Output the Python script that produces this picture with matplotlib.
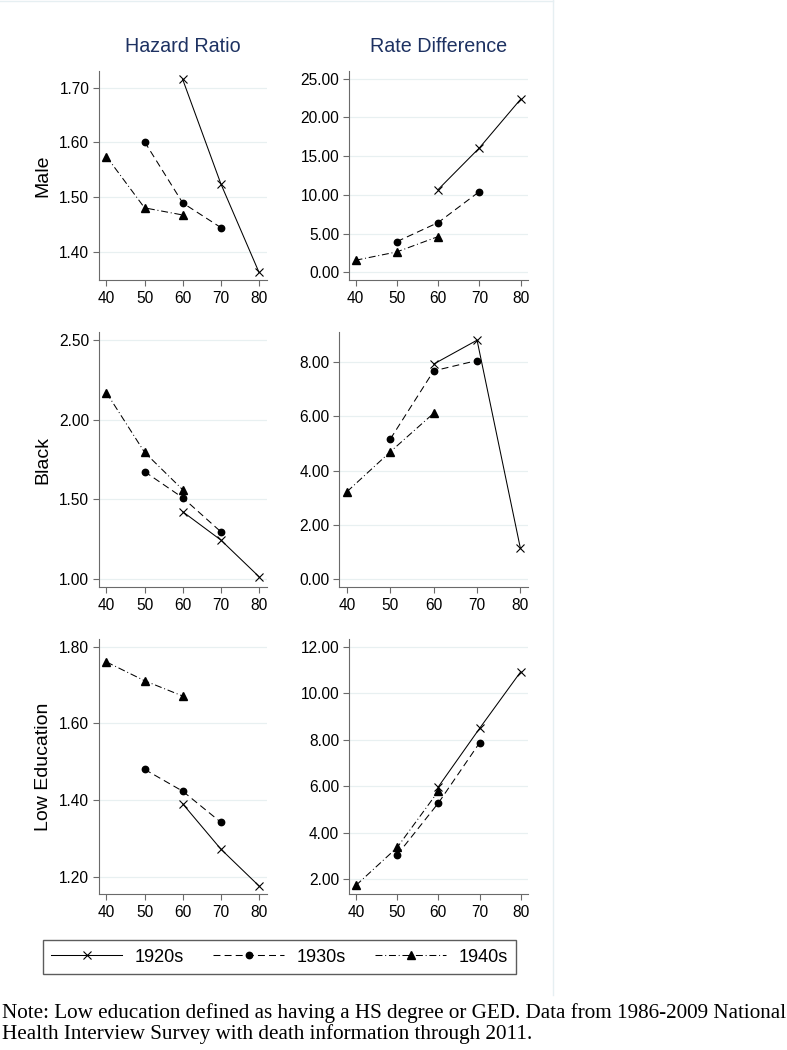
import matplotlib
matplotlib.use('Agg')
import matplotlib.pyplot as plt
from matplotlib.lines import Line2D
from matplotlib.ticker import FormatStrFormatter

plt.rcParams['font.family'] = ['Liberation Sans', 'DejaVu Sans']
plt.rcParams['lines.scale_dashes'] = False

# ages at which each birth cohort is observed
ages_1920s = [60, 70, 80]
ages_1930s = [50, 60, 70]
ages_1940s = [40, 50, 60]
x_ticks = [40, 50, 60, 70, 80]

# Hazard ratios / rate differences
male_hr_1920s = [1.715, 1.524, 1.362]
male_hr_1930s = [1.601, 1.489, 1.444]
male_hr_1940s = [1.574, 1.480, 1.467]
male_rd_1920s = [10.69, 16.08, 22.38]
male_rd_1930s = [3.96, 6.42, 10.43]
male_rd_1940s = [1.55, 2.63, 4.61]

black_hr_1920s = [1.423, 1.245, 1.015]
black_hr_1930s = [1.675, 1.511, 1.297]
black_hr_1940s = [2.171, 1.796, 1.561]
black_rd_1920s = [7.93, 8.81, 1.14]
black_rd_1930s = [5.17, 7.68, 8.06]
black_rd_1940s = [3.23, 4.70, 6.12]

lowed_hr_1920s = [1.390, 1.272, 1.176]
lowed_hr_1930s = [1.480, 1.423, 1.342]
lowed_hr_1940s = [1.760, 1.711, 1.671]
lowed_rd_1920s = [5.98, 8.49, 10.93]
lowed_rd_1930s = [3.05, 5.28, 7.87]
lowed_rd_1940s = [1.74, 3.37, 5.79]

row_labels = ['Male', 'Black', 'Low Education']
col_titles = ['Hazard Ratio', 'Rate Difference']
cohort_labels = ['1920s', '1930s', '1940s']

y_ticks = [
    [1.40, 1.50, 1.60, 1.70], [0, 5, 10, 15, 20, 25],
    [1.00, 1.50, 2.00, 2.50], [0, 2, 4, 6, 8],
    [1.20, 1.40, 1.60, 1.80], [2, 4, 6, 8, 10, 12],
]
y_lims = [
    (1.348, 1.7305), (-1.0, 26.0),
    (0.952, 2.55), (-0.27, 9.1),
    (1.155, 1.819), (1.37, 12.32),
]
panel_data = [
    (male_hr_1920s, male_hr_1930s, male_hr_1940s),
    (male_rd_1920s, male_rd_1930s, male_rd_1940s),
    (black_hr_1920s, black_hr_1930s, black_hr_1940s),
    (black_rd_1920s, black_rd_1930s, black_rd_1940s),
    (lowed_hr_1920s, lowed_hr_1930s, lowed_hr_1940s),
    (lowed_rd_1920s, lowed_rd_1930s, lowed_rd_1940s),
]

W, H = 787, 1050
fig = plt.figure(figsize=(W / 100, H / 100), dpi=100)

# panel boxes in pixels: left, right, top, bottom
boxes = [
    (98.8, 266.9, 71, 280), (348.5, 528, 71, 280),
    (98.8, 266.9, 332.3, 586.7), (339.2, 528, 332.3, 586.7),
    (98.8, 266.9, 639.3, 894), (348.5, 528, 639.3, 894),
]
x_lims = [(38.0, 82.07), (38.3, 81.75), (38.0, 82.07), (38.2, 81.75), (38.0, 82.07), (38.2, 81.75)]

styles = [
    dict(linestyle='-', marker='x', markersize=6, markeredgewidth=0.8),
    dict(linestyle=(0, (5.0, 3.0)), marker='o', markersize=4.6),
    dict(linestyle=(0, (5.0, 2.0, 0.7, 2.0)), marker='^', markersize=5.2),
]
ages = [ages_1920s, ages_1930s, ages_1940s]
spine_col = '#6a6a6a'
axes = []
for i, (l, r, t, b) in enumerate(boxes):
    ax = fig.add_axes([l / W, 1 - b / H, (r - l) / W, (b - t) / H])
    for k in range(3):
        ax.plot(ages[k], panel_data[i][k], color='black', linewidth=0.75,
                label=cohort_labels[k], **styles[k])
    ax.set_xlim(x_lims[i])
    ax.set_ylim(y_lims[i])
    ax.set_xticks(x_ticks)
    ax.set_yticks(y_ticks[i])
    ax.yaxis.set_major_formatter(FormatStrFormatter('%.2f'))
    ax.grid(axis='y', color='#e8f0f1', linewidth=0.9)
    ax.set_axisbelow(True)
    for s in ['top', 'right']:
        ax.spines[s].set_visible(False)
    for s in ['left', 'bottom']:
        ax.spines[s].set_color(spine_col)
        ax.spines[s].set_linewidth(0.8)
    ax.tick_params(length=4.3, width=0.8, color=spine_col, labelsize=11.2, pad=2.5)
    ax.tick_params(axis='x', pad=3.5)
    axes.append(ax)

for j, title in enumerate(col_titles):
    l, r = boxes[j][0], boxes[j][1]
    fig.text((l + r) / 2 / W, 1 - 46.7 / H, title, ha='center', va='center',
             fontsize=14.2, color='#1e3262')
for j, lab in enumerate(row_labels):
    t, b = boxes[2 * j][2], boxes[2 * j][3]
    fig.text(43 / W, 1 - (t + b) / 2 / H, lab, ha='center', va='center',
             rotation=90, fontsize=14)

handles = axes[0].get_lines()
leg = fig.legend(handles, cohort_labels, loc='center',
                 bbox_to_anchor=(279.5 / W, 1 - 957 / H), ncol=3,
                 frameon=True, fancybox=False, fontsize=13,
                 handlelength=3.93, handletextpad=0.69, columnspacing=1.62,
                 borderpad=0.45, numpoints=1)
leg.get_frame().set_edgecolor('#333333')
leg.get_frame().set_linewidth(1.0)

# faint outline of the graph region
fig.add_artist(Line2D([553 / W, 553 / W], [1 - 995 / H, 1.0], color='#e6eff2', linewidth=1.0))
fig.add_artist(Line2D([0, 553 / W], [1 - 0.5 / H, 1 - 0.5 / H], color='#e6eff2', linewidth=1.0))

note = ('Note: Low education defined as having a HS degree or GED. Data from 1986-2009 National\n'
        'Health Interview Survey with death information through 2011.')
fig.text(2 / W, 1 - 1003 / H, note, ha='left', va='top', fontsize=15.2,
         family=['Liberation Serif', 'DejaVu Serif'], linespacing=1.1)

fig.savefig('out.png', dpi=100, facecolor='white')
